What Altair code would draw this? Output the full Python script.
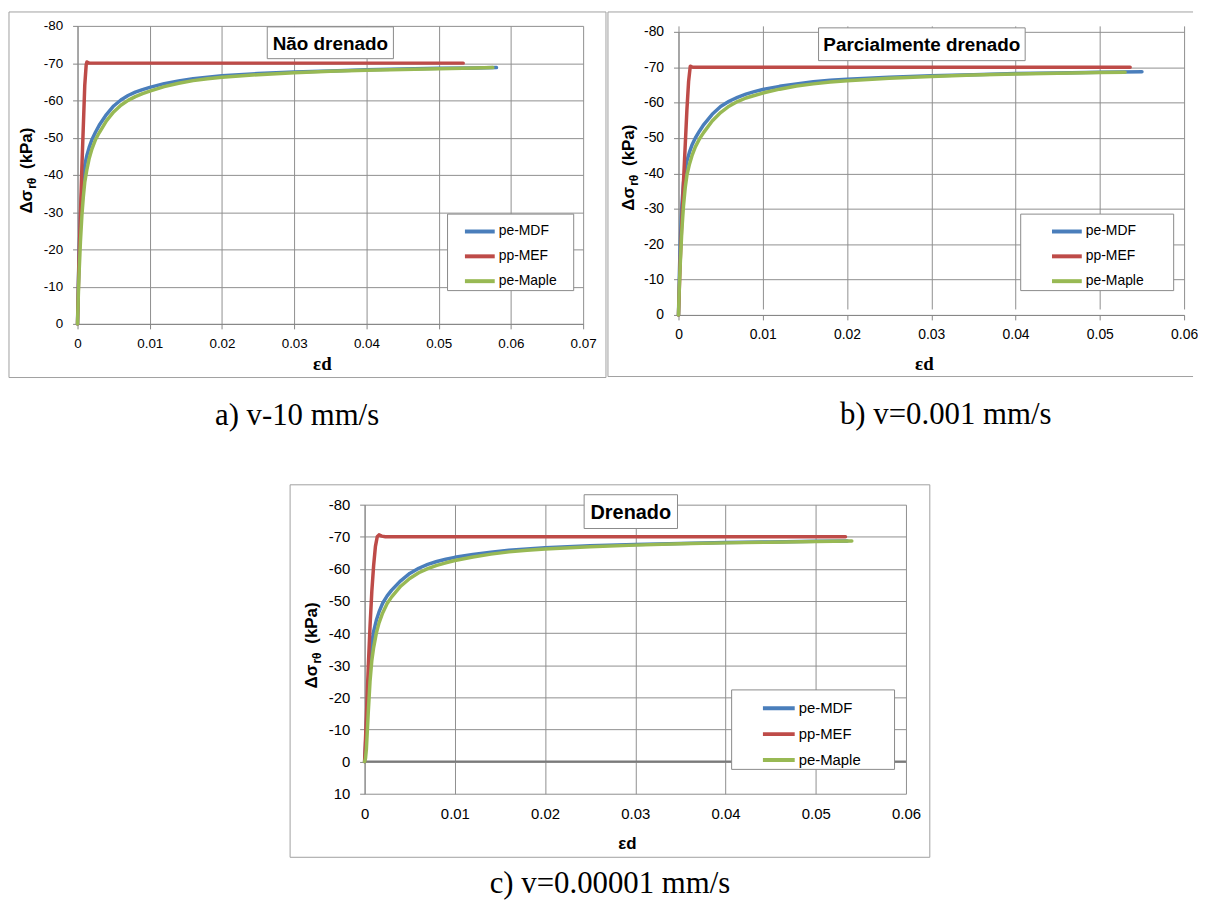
import altair as alt
import pandas as pd

SERIES = ["pe-MDF", "pp-MEF", "pe-Maple"]
COLORS = ["#4a7ebb", "#be4b48", "#98b954"]
PANEL_TITLES = ["Não drenado", "Parcialmente drenado", "Drenado"]
CAPTIONS = ["a) v-10 mm/s", "b) v=0.001 mm/s", "c) v=0.00001 mm/s"]
Y_TITLE = ["Δσ", "rθ", "(kPa)"]
X_TITLE = "εd"

X_TICKS_A = [0, 0.01, 0.02, 0.03, 0.04, 0.05, 0.06, 0.07]
X_TICKS_BC = [0, 0.01, 0.02, 0.03, 0.04, 0.05, 0.06]
Y_TICKS_AB = [0, -10, -20, -30, -40, -50, -60, -70, -80]
Y_TICKS_C = [10, 0, -10, -20, -30, -40, -50, -60, -70, -80]

# ---- a) Não drenado
a_mdf_x = [0, 0.0001, 0.0002, 0.0004, 0.0006, 0.0008, 0.001, 0.0013, 0.0016, 0.002, 0.0025,
           0.003, 0.004, 0.005, 0.006, 0.007, 0.008, 0.009, 0.01, 0.012, 0.014, 0.016,
           0.018, 0.02, 0.025, 0.03, 0.035, 0.04, 0.045, 0.05, 0.055, 0.058]
a_mdf_y = [0, -10, -18, -29, -36, -40, -42.6, -45.3, -47.3, -49.5, -51.5,
           -53.3, -56.2, -58.5, -60.1, -61.3, -62.2, -62.9, -63.5, -64.5, -65.2, -65.8,
           -66.2, -66.6, -67.2, -67.6, -67.9, -68.2, -68.4, -68.6, -68.7, -68.8]
a_mef_x = [0, 0.0002, 0.0006, 0.001, 0.0012, 0.0013, 0.0016, 0.0534]
a_mef_y = [0, -17, -42, -64, -69.6, -70.3, -70, -70]
a_map_x = [0, 0.0001, 0.0002, 0.0004, 0.0006, 0.0008, 0.001, 0.0013, 0.0016, 0.002, 0.0025,
           0.003, 0.004, 0.005, 0.006, 0.007, 0.008, 0.009, 0.01, 0.012, 0.014, 0.016,
           0.018, 0.02, 0.025, 0.03, 0.035, 0.04, 0.045, 0.05, 0.055, 0.0575]
a_map_y = [0, -7, -13, -22, -29, -34, -38, -41.5, -44.3, -47, -49.5,
           -51.3, -54.5, -56.9, -58.7, -60, -61, -61.8, -62.5, -63.7, -64.6, -65.3,
           -65.8, -66.2, -66.9, -67.4, -67.8, -68.1, -68.3, -68.5, -68.7, -68.8]

# ---- b) Parcialmente drenado
b_mdf_x = [0, 0.0001, 0.0002, 0.0004, 0.0006, 0.0008, 0.001, 0.0013, 0.0016, 0.002, 0.0025,
           0.003, 0.004, 0.005, 0.006, 0.007, 0.008, 0.009, 0.01, 0.012, 0.014, 0.016,
           0.018, 0.02, 0.025, 0.03, 0.035, 0.04, 0.045, 0.05, 0.055]
b_mdf_y = [0, -11, -20, -31, -37.5, -41, -43.5, -46, -48, -50, -52,
           -53.8, -56.7, -58.9, -60.4, -61.5, -62.4, -63.1, -63.7, -64.6, -65.3, -65.9,
           -66.3, -66.6, -67.2, -67.6, -67.9, -68.2, -68.4, -68.6, -68.7]
b_mef_x = [0, 0.0002, 0.0006, 0.001, 0.0012, 0.0014, 0.0017, 0.0536]
b_mef_y = [0, -15, -38, -58, -66, -70.3, -70, -70]
b_map_x = [0, 0.0001, 0.0002, 0.0004, 0.0006, 0.0008, 0.001, 0.0013, 0.0016, 0.002, 0.0025,
           0.003, 0.004, 0.005, 0.006, 0.007, 0.008, 0.009, 0.01, 0.012, 0.014, 0.016,
           0.018, 0.02, 0.025, 0.03, 0.035, 0.04, 0.045, 0.05, 0.053]
b_map_y = [0, -8, -14, -24, -31, -36, -39.5, -42.6, -45, -47.5, -49.8,
           -51.6, -54.8, -57.2, -59, -60.3, -61.3, -62, -62.7, -63.8, -64.7, -65.3,
           -65.8, -66.2, -66.9, -67.4, -67.8, -68.1, -68.3, -68.5, -68.6]

# ---- c) Drenado
c_mdf_x = [0, 0.0001, 0.0002, 0.0004, 0.0006, 0.0008, 0.001, 0.0013, 0.0016, 0.002, 0.0025,
           0.003, 0.004, 0.005, 0.006, 0.007, 0.008, 0.009, 0.01, 0.012, 0.014, 0.016,
           0.018, 0.02, 0.025, 0.03, 0.035, 0.04, 0.045, 0.05, 0.0535]
c_mdf_y = [0, -5, -12, -24, -32, -37, -40.5, -44, -46.6, -49.3, -51.6,
           -53.4, -56.3, -58.6, -60.2, -61.4, -62.3, -63, -63.6, -64.5, -65.2, -65.8,
           -66.2, -66.6, -67.2, -67.6, -67.9, -68.2, -68.4, -68.6, -68.7]
c_mef_x = [0, 0.0002, 0.0004, 0.0006, 0.0008, 0.001, 0.0012, 0.0014, 0.0016, 0.0019, 0.0023, 0.0533]
c_mef_y = [0, -14, -29, -42, -53, -61, -67, -70, -70.6, -70.2, -70, -70]
c_map_x = [0, 0.0001, 0.0002, 0.0004, 0.0006, 0.0008, 0.001, 0.0013, 0.0016, 0.002, 0.0025,
           0.003, 0.004, 0.005, 0.006, 0.007, 0.008, 0.009, 0.01, 0.012, 0.014, 0.016,
           0.018, 0.02, 0.025, 0.03, 0.035, 0.04, 0.045, 0.05, 0.054]
c_map_y = [0, -1, -4, -15, -25, -31.5, -35.5, -40, -43.2, -46.3, -49.2,
           -51.3, -54.6, -57, -58.8, -60.1, -61.1, -61.9, -62.6, -63.7, -64.6, -65.3,
           -65.8, -66.2, -66.9, -67.4, -67.8, -68.1, -68.3, -68.5, -68.7]

SANS = "Liberation Sans, Arial, sans-serif"
SERIF = "Liberation Serif, Times New Roman, serif"
AXC = "#868686"
GRID = "#8f8f8f"
FRAME = "#a0a0a0"

one = pd.DataFrame({"k": [0]})


def long_df(triples):
    rows = []
    for name, xs, ys in triples:
        for i, (xv, yv) in enumerate(zip(xs, ys)):
            rows.append({"series": name, "x": xv, "y": yv, "i": i})
    return pd.DataFrame(rows)


def hrule(x1, x2, y, color=FRAME, w=1):
    return alt.Chart(one).mark_rule(color=color, strokeWidth=w).encode(
        x=alt.value(x1), x2=alt.value(x2), y=alt.value(y))


def vrule(x, y1, y2, color=FRAME, w=1):
    return alt.Chart(one).mark_rule(color=color, strokeWidth=w).encode(
        x=alt.value(x), y=alt.value(y1), y2=alt.value(y2))


def box(x1, x2, y1, y2, fill, stroke):
    return alt.Chart(one).mark_rect(fill=fill, stroke=stroke, strokeWidth=1).encode(
        x=alt.value(x1), x2=alt.value(x2), y=alt.value(y1), y2=alt.value(y2))


def text(txt, x, y, font, size, weight="normal", align="center", baseline="middle", angle=0):
    return alt.Chart(one).mark_text(font=font, fontSize=size, fontWeight=weight, align=align,
                                    baseline=baseline, angle=angle, color="#000000").encode(
        x=alt.value(x), y=alt.value(y), text=alt.value(txt))


def make_panel(p):
    df = long_df(p["data"])
    color = alt.Color(
        "series:N",
        scale=alt.Scale(domain=SERIES, range=COLORS),
        legend=alt.Legend(
            # invisible (white) title on the right only widens the legend box
            title="M", titleOrient="right", titleColor="white", titleFontSize=p["pad_fs"],
            titlePadding=0, titleFont=SANS,
            orient="none", legendX=p["legend_x"], legendY=p["legend_y"], zindex=1,
            symbolType="stroke", symbolStrokeWidth=4, symbolSize=p["sym_size"],
            symbolOffset=p["sym_off"], labelOffset=2, padding=1, rowPadding=0,
            strokeColor="#8a8a8a", fillColor="white", labelFont=SANS,
            labelFontSize=p["leg_fs"], labelColor="#000000"))
    x = alt.X(
        "x:Q", scale=alt.Scale(domain=[0, p["xmax"]], nice=False, zero=False),
        axis=alt.Axis(values=p["xticks"], format=".2~f", title=X_TITLE,
                      titleFont=p["xt_font"], titleFontSize=p["xt_fs"], titleFontWeight="bold",
                      titleColor="#000000", titleX=p["xt_x"], titleY=p["xt_y"],
                      titleAlign="center", titleBaseline="middle", titleAngle=0,
                      labelFont=SANS, labelFontSize=p["fs"], labelColor="#000000",
                      labelPadding=p["xlp"], ticks=p["xticks_on"], tickSize=5, tickColor=AXC,
                      domain=p["xdomain"], domainColor=AXC, grid=True, gridColor=GRID,
                      gridWidth=1, labelFlush=False, labelOverlap=False))
    y = alt.Y(
        "y:Q", scale=alt.Scale(domain=[-80, p["ymax"]], range=p["yrange"], nice=False, zero=False),
        axis=alt.Axis(values=p["yticks"], labelExpr="'' + datum.value", title=None,
                      labelFont=SANS, labelFontSize=p["fs"], labelColor="#000000",
                      labelPadding=10, tickSize=5, tickColor=AXC, domainColor=AXC,
                      grid=True, gridColor=GRID, gridWidth=1, labelFlush=False,
                      labelOverlap=False))

    layers = list(p["frame"])
    if p.get("zero_rule"):
        layers.append(alt.Chart(pd.DataFrame({"y": [0]})).mark_rule(color="#7a7a7a", strokeWidth=2)
                      .encode(y=y))
    for s in SERIES:
        layers.append(
            alt.Chart(df).transform_filter(alt.datum.series == s)
            .mark_line(strokeWidth=3.5, strokeJoin="round", strokeCap="round")
            .encode(x=x, y=y, color=color, order="i:Q"))
    bx1, bx2, by1, by2 = p["title_box"]
    layers.append(box(bx1, bx2, by1, by2, "white", "#8a8a8a"))
    layers.append(text(p["title"], (bx1 + bx2) / 2, (by1 + by2) / 2 + 1, SANS, p["title_fs"], "bold"))
    cx, B = p["yt_x"], p["yt_b"]
    layers.append(text(Y_TITLE[0], cx, B, SANS, 17, "bold", "left", "middle", 270))
    layers.append(text(Y_TITLE[1], cx + 5, B - 25, SANS, 12, "bold", "left", "middle", 270))
    layers.append(text(Y_TITLE[2], cx, B - 45, SANS, 17, "bold", "left", "middle", 270))
    capx, capy = p["caption_xy"]
    layers.append(text(p["caption"], capx, capy, SERIF, 31, "normal", "center", "alphabetic"))
    layers.extend(p.get("anchors", []))
    return alt.layer(*layers).properties(width=p["W"], height=p["H"])


PA = dict(
    data=[(SERIES[0], a_mdf_x, a_mdf_y), (SERIES[1], a_mef_x, a_mef_y), (SERIES[2], a_map_x, a_map_y)],
    W=509, H=300, yrange=[0, 300], xmax=0.07, xticks=X_TICKS_A, ymax=0, yticks=Y_TICKS_AB,
    fs=13.5, xlp=8, xticks_on=True, xdomain=True, xt_font=SERIF, xt_fs=19, xt_x=246, xt_y=40,
    legend_x=372, legend_y=189, sym_size=900, sym_off=15, leg_fs=14, pad_fs=19,
    yt_x=-51, yt_b=189, title=PANEL_TITLES[0], title_box=(191, 318, 1, 33), title_fs=19,
    caption=CAPTIONS[0], caption_xy=(221, 402),
    frame=[box(-69, 532, -14, 354, "transparent", FRAME)],
    anchors=[hrule(0, 1, 438, "white")],
)
# panel b: view origin placed 6 px above its plot top so the row's origins line up
PB = dict(
    data=[(SERIES[0], b_mdf_x, b_mdf_y), (SERIES[1], b_mef_x, b_mef_y), (SERIES[2], b_map_x, b_map_y)],
    W=509, H=291, yrange=[6, 291], xmax=0.06, xticks=X_TICKS_BC, ymax=0, yticks=Y_TICKS_AB,
    fs=14, xlp=8, xticks_on=True, xdomain=True, xt_font=SERIF, xt_fs=19, xt_x=247, xt_y=49,
    legend_x=344, legend_y=189, sym_size=900, sym_off=29, leg_fs=14, pad_fs=34,
    yt_x=-50, yt_b=186, title=PANEL_TITLES[1], title_box=(141, 349, 2, 35), title_fs=19,
    caption=CAPTIONS[1], caption_xy=(269, 401),
    frame=[vrule(-71, -14, 353), hrule(-71, 518, -14), hrule(-71, 518, 353)],
)
PC = dict(
    data=[(SERIES[0], c_mdf_x, c_mdf_y), (SERIES[1], c_mef_x, c_mef_y), (SERIES[2], c_map_x, c_map_y)],
    W=545, H=291, yrange=[0, 291], xmax=0.06, xticks=X_TICKS_BC, ymax=10, yticks=Y_TICKS_C,
    fs=15, xlp=13, xticks_on=False, xdomain=False, xt_font=SANS, xt_fs=17, xt_x=264, xt_y=50,
    legend_x=369, legend_y=186, sym_size=1024, sym_off=29, leg_fs=15, pad_fs=38,
    yt_x=-53, yt_b=185, title=PANEL_TITLES[2], title_box=(221, 315, -10, 24), title_fs=20,
    caption=CAPTIONS[2], caption_xy=(247, 391), zero_rule=True,
    frame=[box(-75, 569, -20, 355, "transparent", FRAME)],
)

# empty spacer that pushes panel c to the right of the bottom row
spacer = alt.Chart(one).mark_rule(color="white", strokeWidth=1).encode(
    x=alt.value(0), x2=alt.value(212), y=alt.value(0)).properties(width=212, height=1)

top = alt.hconcat(make_panel(PA), make_panel(PB), spacing=0) \
    .resolve_scale(color="independent").resolve_legend(color="independent")
bottom = alt.hconcat(spacer, make_panel(PC), spacing=0) \
    .resolve_scale(color="independent").resolve_legend(color="independent")
chart = alt.vconcat(top, bottom, spacing=22) \
    .resolve_scale(color="independent").resolve_legend(color="independent") \
    .properties(padding=0) \
    .configure_view(strokeWidth=0)

chart.save("out.html", embed_options={"renderer": "svg", "actions": False})
